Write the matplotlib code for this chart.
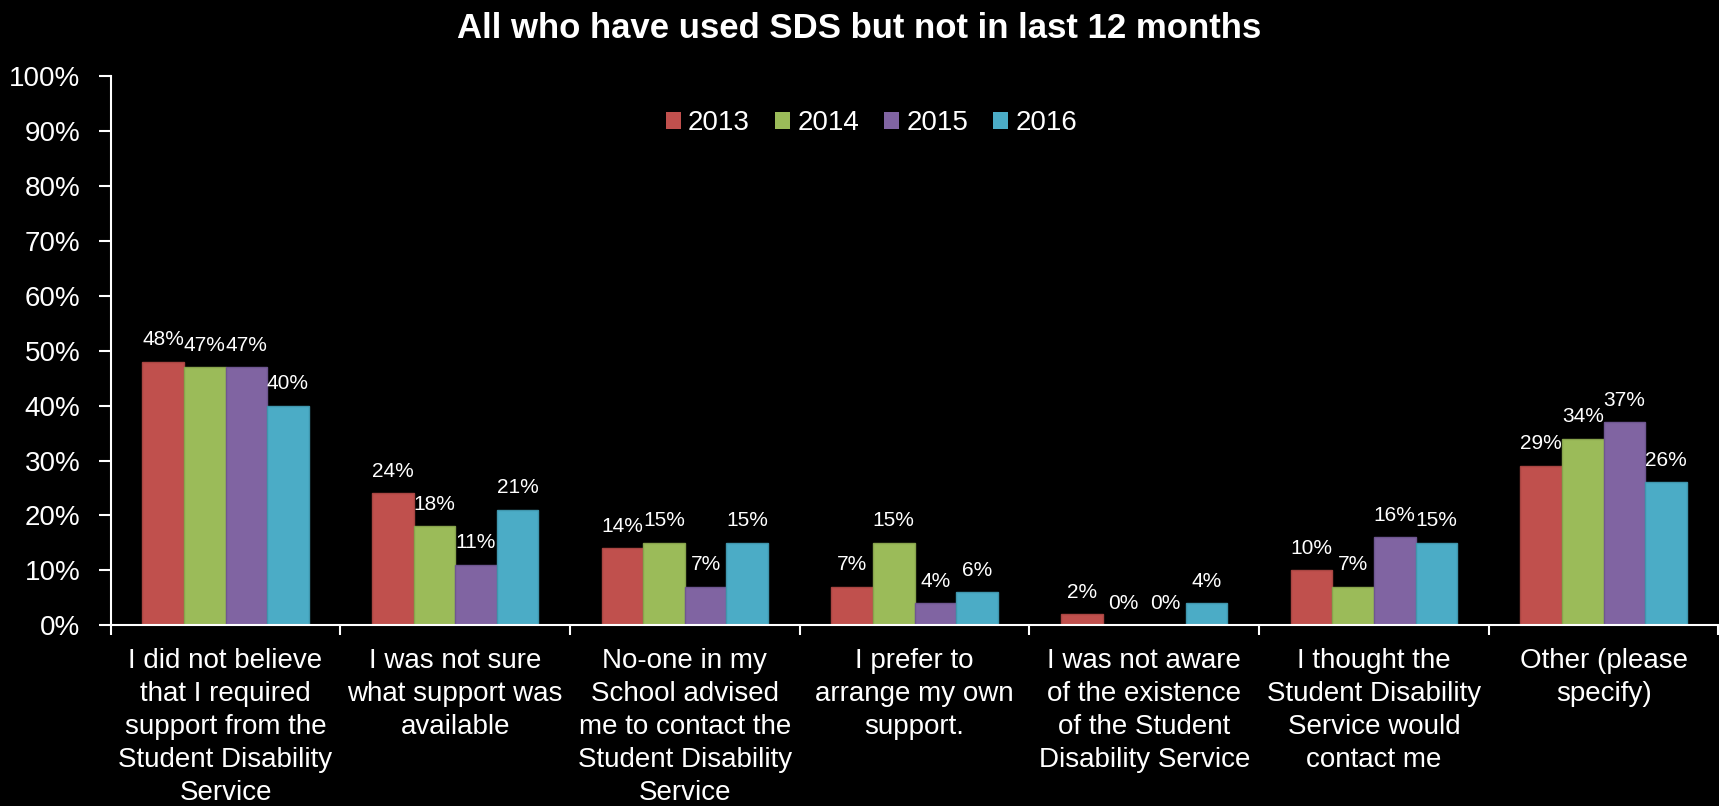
import numpy as np
import matplotlib
matplotlib.use("Agg")
import matplotlib.pyplot as plt

plt.rcParams['font.family'] = ['Liberation Sans', 'DejaVu Sans']

categories = [
    "I did not believe\nthat I required\nsupport from the\nStudent Disability\nService",
    "I was not sure\nwhat support was\navailable",
    "No-one in my\nSchool advised\nme to contact the\nStudent Disability\nService",
    "I prefer to\narrange my own\nsupport.",
    "I was not aware\nof the existence\nof the Student\nDisability Service",
    "I thought the\nStudent Disability\nService would\ncontact me",
    "Other (please\nspecify)",
]
years = ["2013", "2014", "2015", "2016"]
v2013 = [48, 24, 14, 7, 2, 10, 29]
v2014 = [47, 18, 15, 15, 0, 7, 34]
v2015 = [47, 11, 7, 4, 0, 16, 37]
v2016 = [40, 21, 15, 6, 4, 15, 26]
colors = ["#C0504D", "#9BBB59", "#8064A2", "#4BACC6"]
edges = ["#A84542", "#87A34C", "#6E5690", "#3F96AD"]

fig = plt.figure(figsize=(17.19, 8.06), dpi=100, facecolor="black")
ax = fig.add_axes([0.0644, 0.224, 0.9353, 0.6822])
ax.set_facecolor("black")

x = np.arange(len(categories))
w = 0.181
series = [v2013, v2014, v2015, v2016]
for i, vals in enumerate(series):
    pos = x + (i - 1.5) * w
    bars = ax.bar(pos, vals, w, color=colors[i], edgecolor=edges[i],
                  linewidth=1, label=years[i], zorder=2)
    for b, v in zip(bars, vals):
        ax.annotate(f"{v}%", (b.get_x() + b.get_width() / 2, v),
                    xytext=(0, 9), textcoords="offset points",
                    ha="center", va="bottom", color="white", fontsize=15)

ax.set_xlim(-0.5, len(categories) - 0.5)
ax.set_ylim(0, 100)
ax.set_yticks(range(0, 101, 10))
ax.set_yticklabels([f"{t}%" for t in range(0, 101, 10)])

ax.set_xticks(x)
ax.set_xticklabels(categories, linespacing=1.36)
ax.set_xticks(np.arange(-0.5, len(categories), 1), minor=True)
ax.tick_params(axis="x", which="major", length=0, pad=16, colors="white",
               labelsize=20)
ax.tick_params(axis="x", which="minor", length=7, width=1.5, color="white",
               direction="out")
ax.tick_params(axis="y", length=9, width=1.5, color="white", pad=13,
               labelcolor="white", labelsize=20)

for s in ["top", "right"]:
    ax.spines[s].set_visible(False)
for s in ["left", "bottom"]:
    ax.spines[s].set_color("white")
    ax.spines[s].set_linewidth(1.5)

fig.suptitle("All who have used SDS but not in last 12 months", x=0.5,
             y=0.985, color="white", fontsize=25, fontweight="bold", va="top")

leg = fig.legend(loc="center", bbox_to_anchor=(0.507, 0.847), ncol=4,
                 frameon=False, fontsize=20, handlelength=0.55,
                 handleheight=0.55, handletextpad=0.25, columnspacing=0.9,
                 labelcolor="white")
for h in leg.legend_handles:
    h.set_edgecolor("none")

fig.savefig("out.png", dpi=100, facecolor="black")
